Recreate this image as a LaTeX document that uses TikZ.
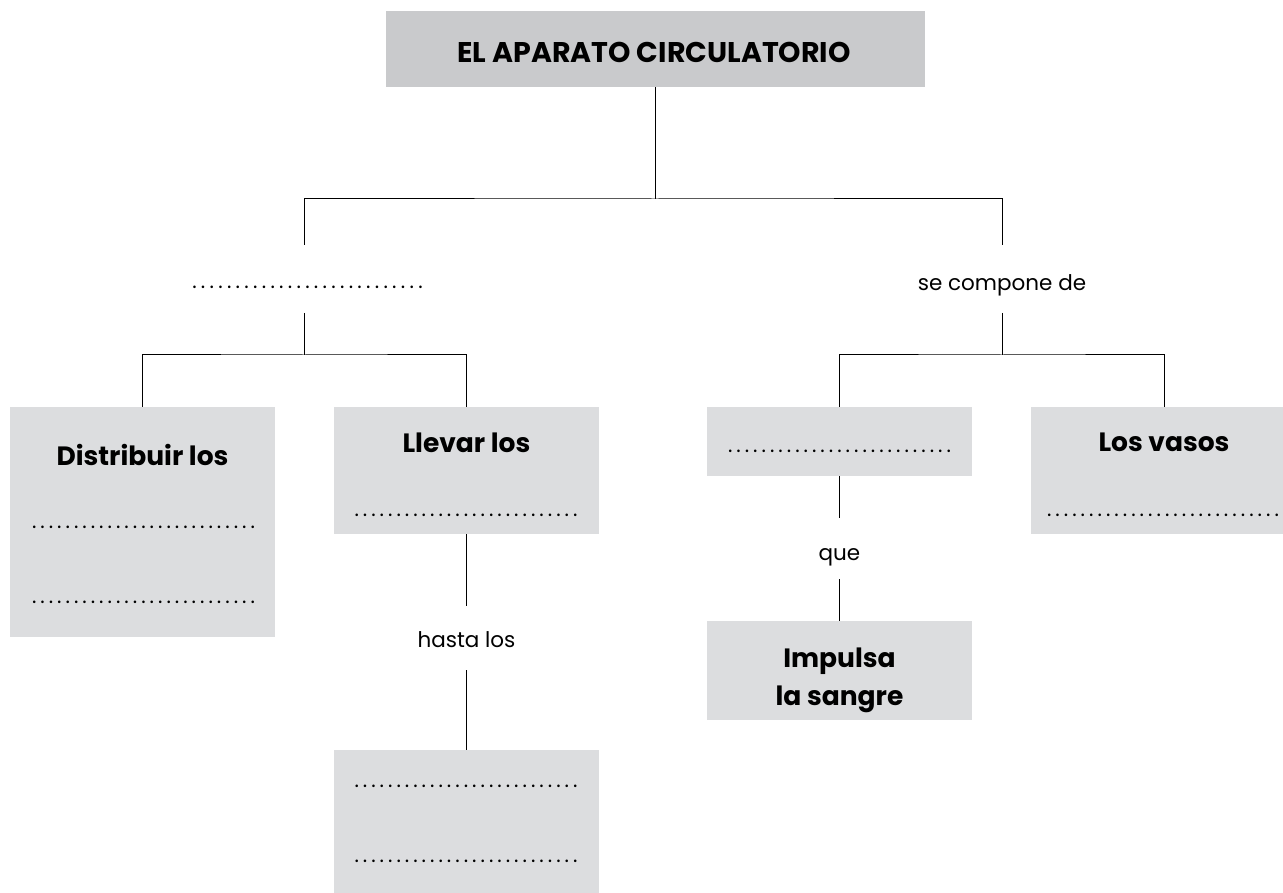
\documentclass[tikz,border=0pt]{standalone}
\usepackage{fontspec}
\setmainfont{Poppins}
\definecolor{titlegray}{HTML}{C9CACC}
\definecolor{boxgray}{HTML}{DCDDDF}
\newcommand{\dotrow}[1]{\hbox to #1{\xleaders\hbox to 8.4pt{\hss.\hss}\hfill}}
\begin{document}
\begin{tikzpicture}[x=1pt,y=-1pt,
  box/.style={rectangle,fill=boxgray,draw=none,inner sep=0pt,minimum width=265pt},
  titlebox/.style={rectangle,fill=titlegray,draw=none,inner sep=0pt,minimum width=539pt,minimum height=76pt},
  btxt/.style={inner sep=0pt,anchor=base,font=\fontsize{26.5}{30}\selectfont\bfseries},
  ttxt/.style={inner sep=0pt,anchor=base,font=\fontsize{28.5}{32}\selectfont\bfseries},
  ntxt/.style={inner sep=0pt,anchor=base,font=\fontsize{21.5}{25}\selectfont},
  dtxt/.style={inner sep=0pt,anchor=base,font=\fontsize{21}{24}\selectfont},
  link/.style={line width=1pt,black}]
\clip (0,0) rectangle (1283,893);
\fill[white] (0,0) rectangle (1283,893);
% boxes
\node[titlebox] (title) at (655,49) {};
\node[box,minimum height=230pt] (box1) at (142.5,522) {};
\node[box,minimum height=127pt] (box2) at (466.5,470.5) {};
\node[box,minimum height=69pt] (box3) at (839.5,441.5) {};
\node[box,minimum height=127pt,minimum width=266pt] (box4) at (1164,470.5) {};
\node[box,minimum height=99pt] (box5) at (839.5,670.5) {};
\node[box,minimum height=145pt] (box6) at (466.5,822.5) {};
% texts
\node[ttxt] (ttitle) at (654,63) {EL APARATO CIRCULATORIO};
\node[btxt] (tdist) at (142.5,465) {Distribuir los};
\node[dtxt] (d1a) at (143.5,528) {\dotrow{227pt}};
\node[dtxt] (d1b) at (143.5,603) {\dotrow{227pt}};
\node[btxt] (tllev) at (466.5,452) {Llevar los};
\node[dtxt] (d2) at (466,516) {\dotrow{227pt}};
\node[dtxt] (d3) at (839.5,452) {\dotrow{227pt}};
\node[btxt] (tvasos) at (1164,451) {Los vasos};
\node[dtxt] (d4) at (1163,516) {\dotrow{236pt}};
\node[btxt] (timp) at (839.5,667) {Impulsa};
\node[btxt] (tsan) at (839.5,705) {la sangre};
\node[dtxt] (d6a) at (466,787) {\dotrow{227pt}};
\node[dtxt] (d6b) at (466,862) {\dotrow{227pt}};
\node[dtxt] (dl1) at (307.5,289) {\dotrow{235pt}};
\node[ntxt] (tsec) at (1002,291) {se compone de};
\node[ntxt] (thasta) at (466.5,647) {hasta los};
\node[ntxt] (tque) at (839.5,560) {que};
% junction coordinates
\coordinate (j0) at (655,199);
\coordinate (g1t) at (304,245);
\coordinate (g1b) at (304,313);
\coordinate (g2t) at (1002,245);
\coordinate (g2b) at (1002,313);
\coordinate (j1) at (304,355);
\coordinate (j2) at (1002,355);
\coordinate (g3t) at (466.5,606);
\coordinate (g3b) at (466.5,670);
\coordinate (g4t) at (839.5,518);
\coordinate (g4b) at (839.5,579);
% connectors
\draw[link] (title.south) -- (j0);
\draw[link] (g1t) |- (j0) -| (g2t);
\draw[link] (g1b) -- (j1);
\draw[link] (box1.north) |- (j1) -| (box2.north);
\draw[link] (g2b) -- (j2);
\draw[link] (box3.north) |- (j2) -| (box4.north);
\draw[link] (box2.south) -- (g3t);
\draw[link] (g3b) -- (box6.north);
\draw[link] (box3.south) -- (g4t);
\draw[link] (g4b) -- (box5.north);
\end{tikzpicture}
\end{document}
